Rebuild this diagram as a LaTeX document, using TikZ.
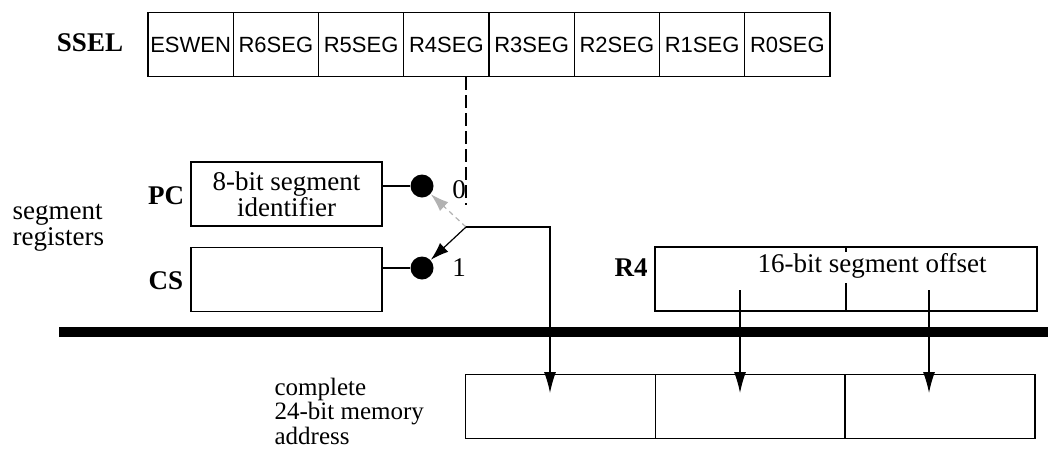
\documentclass[tikz,border=0pt]{standalone}
\usepackage{fontspec}
\setmainfont{Liberation Serif}
\newfontfamily\arialf{Liberation Sans}
\usetikzlibrary{arrows.meta,calc}
\begin{document}
\begin{tikzpicture}[x=1pt,y=-1pt,
  line width=1.2pt,
  cell/.style={draw, inner sep=0pt, minimum width=85.25pt, minimum height=64pt,
    font=\arialf\fontsize{22}{24}\selectfont},
  regbox/.style={draw, inner sep=0pt, minimum width=#1, minimum height=64pt},
  lbl/.style={font=\bfseries\fontsize{27}{27}\selectfont, inner sep=0pt},
  txt/.style={font=\fontsize{27}{26}\selectfont, inner sep=0pt},
  dot/.style={circle, fill=black, inner sep=0pt, minimum size=23pt},
  bigtip/.style={-{Latex[length=21pt,width=12pt]}},
  smalltip/.style={-{Latex[length=18pt,width=12pt]}}
]
\useasboundingbox (0,0) rectangle (1048,450);

% SSEL register
\node[lbl] (ssel) at (90,43) {SSEL};
\foreach \t [count=\i from 0] in {ESWEN,R6SEG,R5SEG,R4SEG,R3SEG,R2SEG,R1SEG,R0SEG}
  \node[cell] (s\i) at ({148+85.25*(\i+0.5)},44.5) {\t};

% segment registers
\node[txt, align=left, anchor=west] (segreg) at (12,228) {segment\\registers};
\node[lbl] (pclbl) at (166,196) {PC};
\node[lbl] (cslbl) at (166,281) {CS};
\node[regbox=191pt, txt, align=center] (pc) at (286.5,194) {8-bit segment\\identifier};
\node[regbox=191pt] (cs) at (286.5,279.5) {};

% switch
\node[dot] (pcdot) at (422,186) {};
\node[dot] (csdot) at (422,268) {};
\draw (pc.east |- pcdot) -- (pcdot);
\draw (cs.east |- csdot) -- (csdot);
\node[txt] (zero) at (459,190) {0};
\node[txt] (one) at (459,268) {1};
\coordinate (pivot) at (466,227);
\coordinate (dtop) at (466,77);
\coordinate (dbot) at (466,205);
\draw[dash pattern=on 13pt off 5pt] (dtop) -- (dbot);
\draw[black!30, dash pattern=on 5pt off 4pt, smalltip] (pivot) -- (pcdot);
\draw[smalltip] (pivot) -- (csdot);

% R4
\node[lbl] (r4lbl) at (631,268) {R4};
\node[regbox=382pt] (r4) at (846,279) {};
\node[txt] (offs) at (872,266) {16-bit segment offset};
\draw (846,247) -- (846,252);
\draw (846,283) -- (846,311);

% bar
\coordinate (barL) at (59,332);
\coordinate (barR) at (1048,332);
\draw[line width=10pt] (barL) -- (barR);

% memory address
\node[font=\fontsize{25}{24.5}\selectfont, inner sep=0pt, align=left, anchor=west] (memlbl) at (274,411) {complete\\24-bit memory\\address};
\node[regbox=190.5pt] (m1) at (560.5,406.5) {};
\node[regbox=189pt] (m2) at (750.25,406.5) {};
\node[regbox=190pt] (m3) at (940,406.5) {};

\coordinate (t1) at (550,393);
\coordinate (t2) at (740,393);
\coordinate (t3) at (929,393);
\coordinate (r4a) at (740,290);
\coordinate (r4b) at (929,290);
\draw[bigtip] (pivot) -| (t1);
\draw[bigtip] (r4a) -- (t2);
\draw[bigtip] (r4b) -- (t3);
\end{tikzpicture}
\end{document}
